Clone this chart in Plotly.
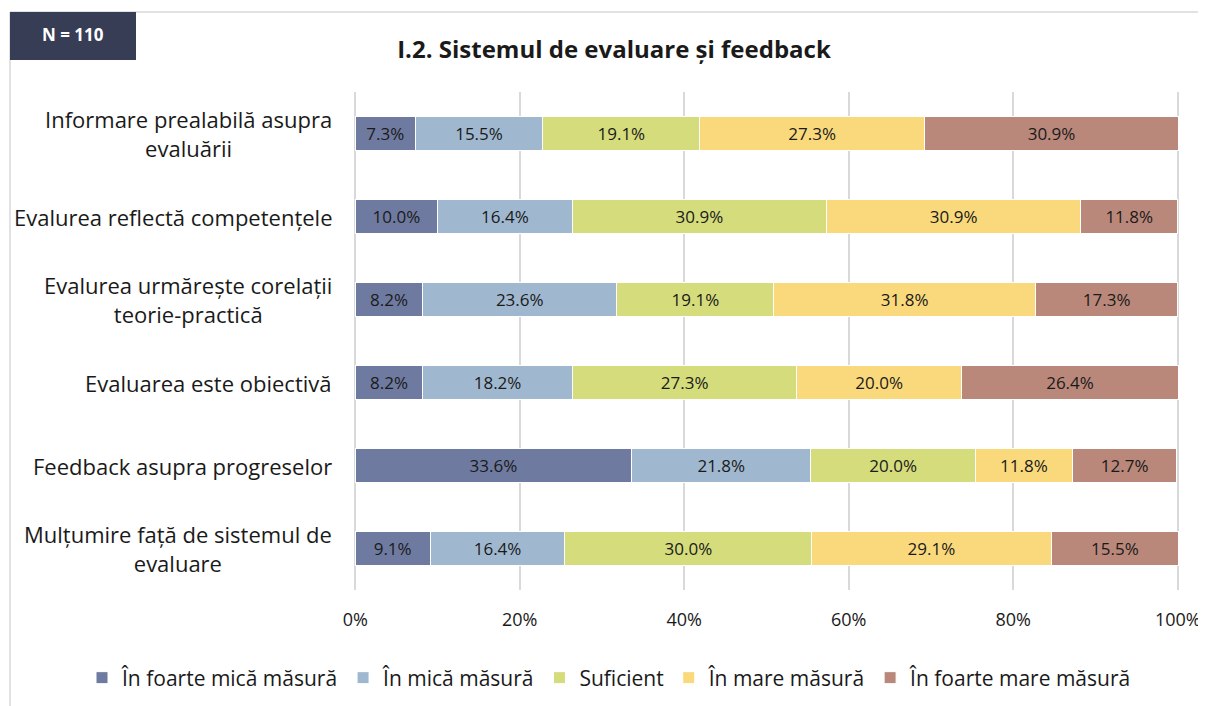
import plotly.graph_objects as go

# categories top to bottom
categories = [
    "Informare prealabilă asupra<br>evaluării",
    "Evalurea reflectă competențele",
    "Evalurea urmărește corelații<br>teorie-practică",
    "Evaluarea este obiectivă",
    "Feedback asupra progreselor",
    "Mulțumire față de sistemul de<br>evaluare",
]
series_names = [
    "În foarte mică măsură",
    "În mică măsură",
    "Suficient",
    "În mare măsură",
    "În foarte mare măsură",
]
foarte_mica = [7.3, 10.0, 8.2, 8.2, 33.6, 9.1]
mica = [15.5, 16.4, 23.6, 18.2, 21.8, 16.4]
suficient = [19.1, 30.9, 19.1, 27.3, 20.0, 30.0]
mare = [27.3, 30.9, 31.8, 20.0, 11.8, 29.1]
foarte_mare = [30.9, 11.8, 17.3, 26.4, 12.7, 15.5]
x_ticks = [0, 20, 40, 60, 80, 100]

colors = ["#6f7aa0", "#a0b8cf", "#d4dc7c", "#f9d97c", "#b9887a"]
series = [foarte_mica, mica, suficient, mare, foarte_mare]

fig = go.Figure()
for name, vals, col in zip(series_names, series, colors):
    fig.add_trace(go.Bar(
        y=categories, x=vals, name=name, orientation="h",
        marker=dict(color=col, line=dict(color="white", width=1)),
        text=[f"{v:.1f}%" for v in vals], textposition="inside",
        insidetextanchor="middle", textangle=0, constraintext="none",
        textfont=dict(family="Open Sans", size=17, color="#1a1a1a"),
    ))

# category labels as annotations so multi-line labels are centred
for cat in categories:
    fig.add_annotation(x=0, y=cat, xref="paper", yref="y", text=cat,
                       xanchor="right", yanchor="middle", xshift=-20, align="center",
                       showarrow=False,
                       font=dict(family="Open Sans", size=22, color="#1a1a1a"))

# plot area in figure pixels: x 346..1171, y 84..582 (page has an 8px body margin)
def px(x):
    return (x - 346) / 825

def py(y):
    return (582 - y) / 498

# outer frame (top and left edges)
fig.add_shape(type="line", xref="paper", yref="paper", x0=px(2), x1=px(1206),
              y0=py(4), y1=py(4), line=dict(color="#d9d9d9", width=1.5))
fig.add_shape(type="line", xref="paper", yref="paper", x0=px(2), x1=px(2),
              y0=py(4), y1=py(706), line=dict(color="#d9d9d9", width=1.5))
# N badge
fig.add_shape(type="rect", xref="paper", yref="paper", x0=px(2), x1=px(128),
              y0=py(52), y1=py(4), fillcolor="#383d56", line=dict(width=0))
fig.add_annotation(x=px(65), y=py(27), xref="paper", yref="paper", text="<b>N = 110</b>",
                   xanchor="center", yanchor="middle", showarrow=False,
                   font=dict(family="Open Sans", size=17, color="white"))

fig.update_layout(
    width=1206, height=706,
    margin=dict(l=346, r=35, t=84, b=124),
    barmode="stack", bargap=0.6,
    paper_bgcolor="white", plot_bgcolor="white",
    title=dict(text="<b>I.2. Sistemul de evaluare și feedback</b>", x=606 / 1206, xanchor="center",
               xref="container", y=1 - 42 / 706, yanchor="middle",
               font=dict(family="Open Sans", size=24, color="#1a1a1a")),
    xaxis=dict(range=[-0.15, 100.15], tickvals=x_ticks, ticktext=[f"{v}%" for v in x_ticks],
               showgrid=True, gridcolor="#d9d9d9", gridwidth=2, zeroline=False, showline=False,
               ticklabelstandoff=17,
               tickfont=dict(family="Open Sans", size=18, color="#1a1a1a")),
    yaxis=dict(autorange="reversed", showticklabels=False, showgrid=False, zeroline=False),
    legend=dict(orientation="h", xref="paper", yref="paper", x=px(74),
                xanchor="left", y=py(670), yanchor="middle", traceorder="normal",
                font=dict(family="Open Sans", size=21, color="#1a1a1a"),
                itemwidth=30),
    showlegend=True,
)

fig.write_html("out.html")
